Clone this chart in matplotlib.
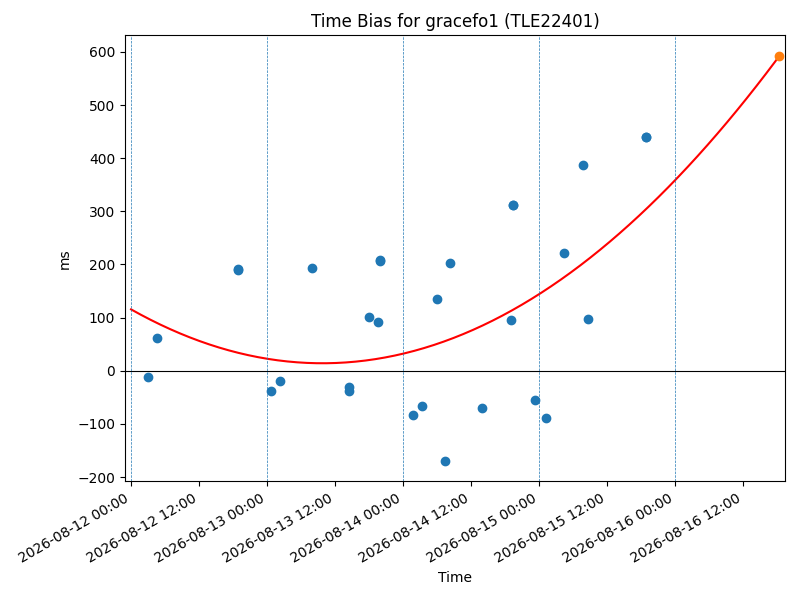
import numpy as np
import pandas as pd
import matplotlib
matplotlib.use("Agg")
import matplotlib.pyplot as plt
import matplotlib.dates as mdates

base_time = "2026-08-12 00:00"
obs_hours = [3.0, 4.6, 18.9, 18.95, 24.6, 26.3, 31.9, 38.5, 38.5, 42.0, 43.6,
             43.9, 43.95, 49.8, 51.4, 54.0, 55.4, 56.2, 61.9, 67.1, 67.4, 67.45,
             71.2, 73.2, 76.4, 79.7, 80.6, 90.8, 90.85]
obs_bias_ms = [-12, 61, 191, 190, -38, -20, 194, -31, -38, 101, 91,
               208, 207, -84, -67, 136, -170, 202, -70, 95, 311, 312,
               -54, -89, 221, 388, 97, 440, 439]
pred_hours = [114.3]
pred_bias_ms = [592]
fit_start_hours = 0.0
fit_coef = [51.26, -144.2, 115.6]  # per-day quadratic coefficients
day_lines = ["2026-08-12", "2026-08-13", "2026-08-14", "2026-08-15", "2026-08-16"]
xlim_hours = [-1.1, 115.4]
ylim = [-207.7, 631]

t0 = pd.Timestamp(base_time)
obs_t = [t0 + pd.Timedelta(hours=h) for h in obs_hours]
pred_t = [t0 + pd.Timedelta(hours=h) for h in pred_hours]

fig, ax = plt.subplots(figsize=(8, 6), dpi=100)

fit_h = np.linspace(fit_start_hours, pred_hours[0], 200)
fit_v = np.polyval(fit_coef, fit_h / 24.0)
fit_t = [t0 + pd.Timedelta(hours=h) for h in fit_h]

ax.scatter(obs_t, obs_bias_ms, color="C0", zorder=3)
ax.plot(fit_t, fit_v, color="red", zorder=2)
ax.scatter(pred_t, pred_bias_ms, color="C1", zorder=4)
ax.axhline(0, color="black", linewidth=0.8)
for d in day_lines:
    ax.axvline(pd.Timestamp(d), color="C0", linestyle="--", linewidth=0.5)

ax.set_xlim(t0 + pd.Timedelta(hours=xlim_hours[0]), t0 + pd.Timedelta(hours=xlim_hours[1]))
ax.set_ylim(*ylim)
ax.xaxis.set_major_locator(mdates.HourLocator(byhour=[0, 12]))
ax.xaxis.set_major_formatter(mdates.DateFormatter("%Y-%m-%d %H:%M"))
ax.set_title("Time Bias for gracefo1 (TLE22401)")
ax.set_xlabel("Time")
ax.set_ylabel("ms")
fig.autofmt_xdate()
fig.subplots_adjust(left=0.156, right=0.9816, top=0.941, bottom=0.198)
fig.savefig("out.png", dpi=100)
